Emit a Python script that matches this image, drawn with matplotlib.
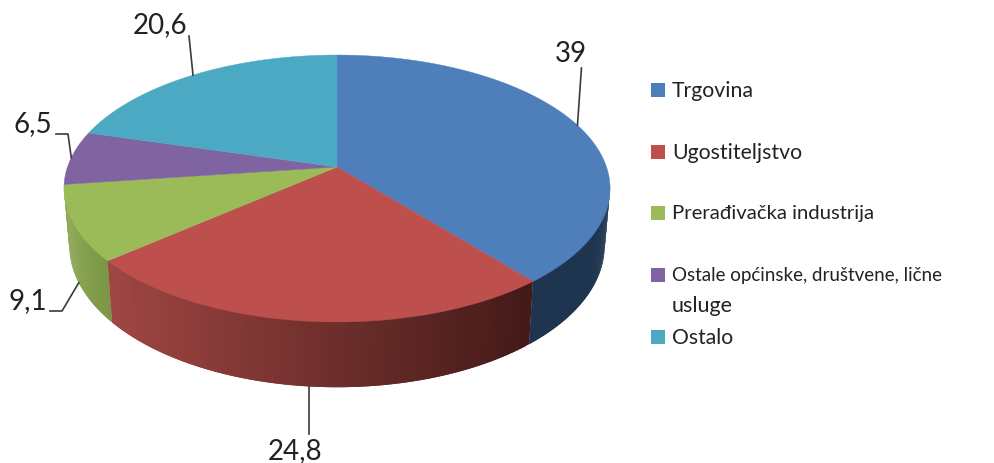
import matplotlib.pyplot as plt
from matplotlib.patches import Rectangle
import numpy as np

plt.rcParams['font.family'] = ['Lato', 'DejaVu Sans']

categories = ['Trgovina', 'Ugostiteljstvo', 'Prerađivačka industrija',
              'Ostale općinske, društvene, lične', 'Ostalo']
category_extra = 'usluge'
values = [39, 24.8, 9.1, 6.5, 20.6]
value_labels = ['39', '24,8', '9,1', '6,5', '20,6']
colors = ['#4F7FBB', '#BD504D', '#9BBB59', '#8064A2', '#4BA9C3']
# side wall colour at left and right end, only the first three slices show a wall
side_left = ['#1E344F', '#A04643', '#8CA851']
side_right = ['#1E344F', '#431A18', '#7A9646']

legend_y = [91, 153, 214, 276, 338]
# source text is hinted, so line widths do not scale evenly
legend_size = [15.3, 15.3, 14.6, 13.5, 15.2]

# pixel geometry of the tilted pie
cx, cy = 337, 167
a, b, k = 130, 269.5, 0.161
bottom_sx, bottom_sy, bottom_cy = 0.98, 1.06, 223


def top_xy(theta):
    d = 1 + k * np.cos(theta)
    return cx + b * np.sin(theta) / d, cy - a * np.cos(theta) / d


def bottom_xy(theta):
    x, y = top_xy(theta)
    return cx + (x - cx) * bottom_sx, bottom_cy + (y - cy) * bottom_sy


def hex2rgb(c):
    return np.array([int(c[i:i + 2], 16) / 255 for i in (1, 3, 5)])


fig = plt.figure(figsize=(9.95, 4.63), dpi=100)
ax = fig.add_axes([0, 0, 1, 1])
ax.set_xlim(0, 995)
ax.set_ylim(463, 0)
ax.axis('off')

edges = np.concatenate(([0], np.cumsum(values))) / sum(values) * 2 * np.pi
# the wall starts where the pie is widest on the right
wall_start = np.arccos(-k)

# side wall first, strips overlap so no seams show
for i in range(3):
    t = np.linspace(max(edges[i], wall_start), edges[i + 1], 90)
    x1, y1 = top_xy(t)
    x2, y2 = bottom_xy(t)
    left, right = hex2rgb(side_left[i]), hex2rgb(side_right[i])
    for j in range(len(t) - 1):
        n = min(j + 2, len(t) - 1)
        if i == 2:
            f = np.clip((x1[j] - 64) / (107 - 64), 0, 1)
        else:
            f = np.clip((x1[j] - 107) / (533 - 107), 0, 1)
        c = left + (right - left) * f
        ax.fill([x1[j], x1[n], x2[n], x2[j]],
                [y1[j] - 2, y1[n] - 2, y2[n], y2[j]],
                color=c, lw=0, zorder=1 + (2 - i) * 0.1)

# top of the pie
for i in range(len(values)):
    t = np.linspace(edges[i], edges[i + 1], 150)
    x, y = top_xy(t)
    ax.fill(np.r_[cx, x], np.r_[cy, y], color=colors[i], lw=0.3, zorder=2)

# leader lines and value labels
mid = (edges[:-1] + edges[1:]) / 2
lc = '#3A3A3A'
tc = '#222222'
p0 = top_xy(mid[0])
ax.plot([p0[0], p0[0] + 4], [p0[1], 68], color=lc, lw=1.2, zorder=3)
ax.text(571, 54, value_labels[0], fontsize=20, ha='center', va='center', color=tc)

p1 = bottom_xy(mid[1])
ax.plot([p1[0], p1[0]], [p1[1], 434], color=lc, lw=1.2, zorder=3)
ax.text(295, 451, value_labels[1], fontsize=20, ha='center', va='center', color=tc)

p2 = bottom_xy(mid[2])
ax.plot([p2[0], 62, 50], [p2[1], 311, 311], color=lc, lw=1.2, zorder=3)
ax.text(28, 301, value_labels[2], fontsize=20, ha='center', va='center', color=tc)

p3 = top_xy(mid[3])
ax.plot([p3[0], 68, 56], [p3[1], 134, 134], color=lc, lw=1.2, zorder=3)
ax.text(33, 124, value_labels[3], fontsize=20, ha='center', va='center', color=tc)

p4 = top_xy(mid[4])
ax.plot([p4[0], 189], [p4[1], 36], color=lc, lw=1.2, zorder=3)
ax.text(160, 25, value_labels[4], fontsize=20, ha='center', va='center', color=tc)

# legend
for i in range(len(values)):
    ax.add_patch(Rectangle((651, legend_y[i] - 8), 14, 14, color=colors[i], lw=0))
    ax.text(672, legend_y[i], categories[i], fontsize=legend_size[i], ha='left',
            va='center', color=tc)
ax.text(672, 306, category_extra, fontsize=15.5, ha='left', va='center', color=tc)

fig.savefig('out.png', dpi=100)
